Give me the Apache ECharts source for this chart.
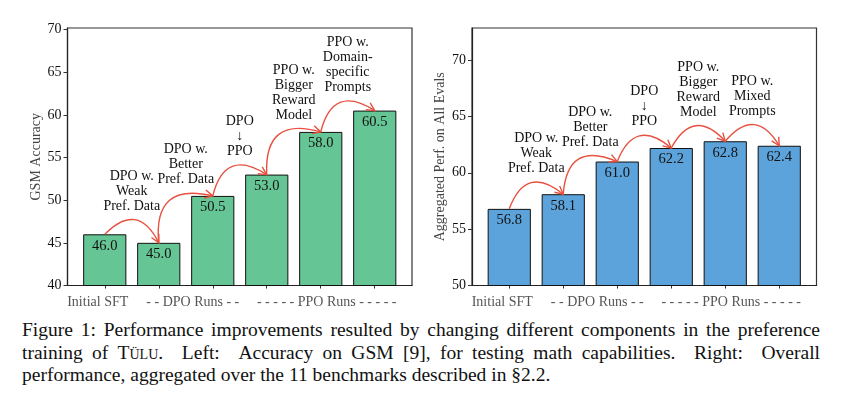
<!DOCTYPE html>
<html><head><meta charset="utf-8">
<script src="https://cdn.jsdelivr.net/npm/echarts@6/dist/echarts.min.js"></script>
<style>
html,body{margin:0;padding:0;background:#fff;}
#chart{position:absolute;left:0;top:0;width:845px;height:318px;}
#cap{position:absolute;left:22px;top:319px;width:798px;font-family:"Liberation Serif","Times New Roman",serif;font-size:19.5px;line-height:22.5px;color:#111;}
#cap .j{text-align:justify;text-align-last:justify;white-space:normal;}
.sc{font-variant:small-caps;}
</style>
</head><body>
<div id="chart"></div>
<div id="cap">
<div class="j">Figure 1: Performance improvements resulted by changing different components in the preference</div>
<div class="j">training of <span class="sc">Tülu</span>. &nbsp;Left: &nbsp;Accuracy on GSM [9], for testing math capabilities. &nbsp;Right: &nbsp;Overall</div>
<div>performance, aggregated over the 11 benchmarks described in §2.2.</div>
</div>
<script>
// ---- data ----
const gsmValues = [46.0, 45.0, 50.5, 53.0, 58.0, 60.5];
const aggValues = [56.8, 58.1, 61.0, 62.2, 62.8, 62.4];
const gsmNotes = ["DPO w.\nWeak\nPref. Data", "DPO w.\nBetter\nPref. Data", "DPO\n↓\nPPO", "PPO w.\nBigger\nReward\nModel", "PPO w.\nDomain-\nspecific\nPrompts"];
const aggNotes = ["DPO w.\nWeak\nPref. Data", "DPO w.\nBetter\nPref. Data", "DPO\n↓\nPPO", "PPO w.\nBigger\nReward\nModel", "PPO w.\nMixed\nPrompts"];
const gsmTicks = [40, 45, 50, 55, 60, 65, 70];
const aggTicks = [50, 55, 60, 65, 70];
const groupLabels = ["Initial SFT", "- - DPO Runs - -", "- - - - - PPO Runs - - - - -"];
const groupTickPos = [-0.13, 1.63, 4.11];
const barTicks = [0, 1, 2, 3, 4, 5];

// ---- styling ----
const FONT = '"Liberation Serif","Times New Roman",serif';
const XMIN = -0.69, XMAX = 5.69;
const GRID_W = 344.5;
const barPx = 0.8 * GRID_W / (XMAX - XMIN);
const RAD = -0.7;
const ARROW = '#e8503f';

const chart = echarts.init(document.getElementById('chart'), null, {renderer: 'canvas'});

function xAxisDef(gi) {
  return {
    gridIndex: gi, type: 'value', min: XMIN, max: XMAX,
    splitLine: {show: false},
    axisLine: {show: true, onZero: false, lineStyle: {color: '#222', width: 1.2}},
    axisTick: {show: true, customValues: barTicks, length: 3, lineStyle: {color: '#333'}},
    axisLabel: {
      customValues: groupTickPos, margin: 10, fontFamily: FONT, fontSize: 14, color: '#555',
      formatter: function (v) {
        let k = 0, best = 1e9;
        groupTickPos.forEach((p, j) => { if (Math.abs(p - v) < best) { best = Math.abs(p - v); k = j; } });
        return groupLabels[k];
      }
    }
  };
}
function yAxisDef(gi, vals, ticks, name, gap) {
  return {
    gridIndex: gi, type: 'value', min: ticks[0], max: Math.max.apply(null, vals) * 1.16,
    splitLine: {show: false},
    axisLine: {show: true, onZero: false, lineStyle: {color: '#222', width: 1.2}},
    axisTick: {show: true, customValues: ticks, length: 4, lineStyle: {color: '#333'}},
    axisLabel: {customValues: ticks, margin: 6, fontFamily: FONT, fontSize: 14, color: '#111'},
    name: name, nameLocation: 'middle', nameGap: gap,
    nameTextStyle: {fontFamily: FONT, fontSize: 14, color: '#444'}
  };
}
function barSeries(gi, vals, color) {
  return {
    type: 'bar', xAxisIndex: gi, yAxisIndex: gi, barWidth: barPx, z: 3,
    data: vals.map((v, i) => [i, v]),
    itemStyle: {color: color, borderColor: '#111', borderWidth: 1},
    label: {show: true, position: 'insideTop', distance: 4, fontFamily: FONT, fontSize: 14.5, color: '#111',
      formatter: p => p.value[1].toFixed(1)}
  };
}
function noteSeries(gi, vals, notes) {
  return {
    type: 'custom', xAxisIndex: gi, yAxisIndex: gi, z: 5, silent: true, clip: false,
    data: notes.map((t, i) => [i]),
    renderItem: function (params, api) {
      const i = params.dataIndex;
      const A = api.coord([i, vals[i]]);
      const B = api.coord([i + 1, vals[i + 1]]);
      const dx = B[0] - A[0], dyUp = -(B[1] - A[1]);
      const mx = (A[0] + B[0]) / 2, my = (A[1] + B[1]) / 2;
      const cx = mx + RAD * dyUp, cy = my + RAD * dx;
      let minY = 1e9;
      for (let k = 0; k <= 100; k++) {
        const t = k / 100;
        const y = (1 - t) * (1 - t) * A[1] + 2 * t * (1 - t) * cy + t * t * B[1];
        if (y < minY) minY = y;
      }
      let ux = cx - B[0], uy = cy - B[1];
      const ln = Math.hypot(ux, uy); ux /= ln; uy /= ln;
      const L = 9, th = 27 * Math.PI / 180;
      const h1 = [B[0] + L * (ux * Math.cos(th) - uy * Math.sin(th)), B[1] + L * (ux * Math.sin(th) + uy * Math.cos(th))];
      const h2 = [B[0] + L * (ux * Math.cos(-th) - uy * Math.sin(-th)), B[1] + L * (ux * Math.sin(-th) + uy * Math.cos(-th))];
      const tx = api.coord([i + 0.5, vals[i]])[0];
      return {
        type: 'group',
        children: [
          {type: 'bezierCurve', shape: {x1: A[0], y1: A[1], x2: B[0], y2: B[1], cpx1: cx, cpy1: cy},
            style: {stroke: ARROW, lineWidth: 1.4, fill: null}},
          {type: 'polyline', shape: {points: [h1, B, h2]}, style: {stroke: ARROW, lineWidth: 1.4, fill: null}},
          {type: 'text', style: {text: notes[i], x: tx, y: minY - 6, align: 'center', verticalAlign: 'bottom',
            font: '14px ' + FONT, lineHeight: 15, fill: '#111'}}
        ]
      };
    }
  };
}

chart.setOption({
  animation: false,
  backgroundColor: '#fff',
  grid: [
    {left: 67.5, top: 28, width: GRID_W, height: 257.5, show: true, borderColor: '#333', borderWidth: 1.2, backgroundColor: 'transparent'},
    {left: 472, top: 28, width: GRID_W, height: 257.5, show: true, borderColor: '#333', borderWidth: 1.2, backgroundColor: 'transparent'}
  ],
  xAxis: [xAxisDef(0), xAxisDef(1)],
  yAxis: [yAxisDef(0, gsmValues, gsmTicks, 'GSM Accuracy', 22.5), yAxisDef(1, aggValues, aggTicks, 'Aggregated Perf. on All Evals', 24.5)],
  series: [
    barSeries(0, gsmValues, '#66c595'),
    barSeries(1, aggValues, '#5ba3da'),
    noteSeries(0, gsmValues, gsmNotes),
    noteSeries(1, aggValues, aggNotes)
  ]
});
</script>
</body></html>
